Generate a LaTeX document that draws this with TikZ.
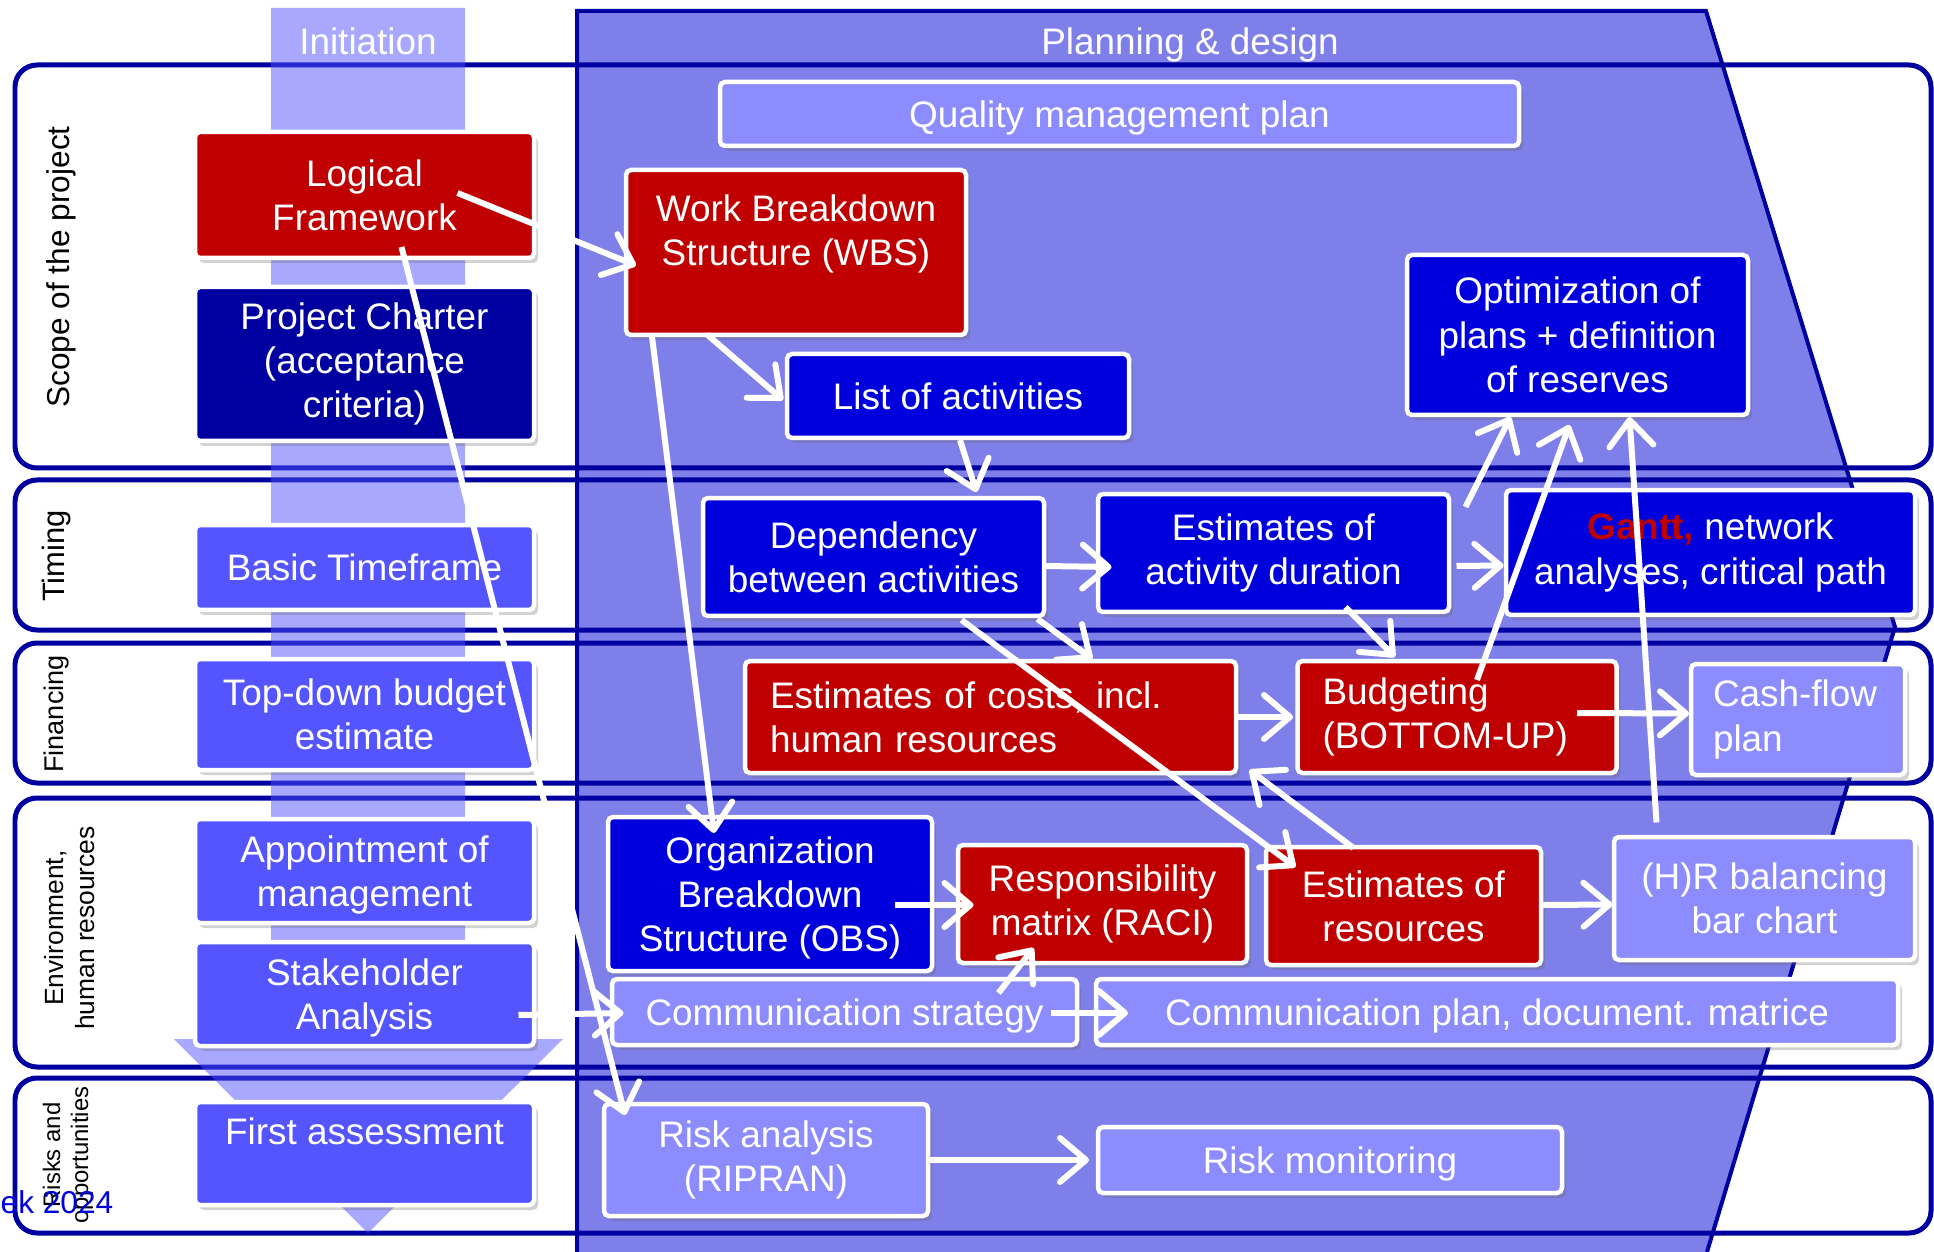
\documentclass[tikz,border=0pt]{standalone}
\usepackage{fontspec}
\setmainfont{Liberation Sans}
\usetikzlibrary{calc,arrows.meta,shadows}

\definecolor{cplan}{RGB}{127,127,234}
\definecolor{cline}{RGB}{0,0,160}
\definecolor{cband}{RGB}{81,81,255}
\definecolor{cred}{RGB}{192,0,0}
\definecolor{cnavy}{RGB}{0,0,160}
\definecolor{cblue}{RGB}{0,0,220}
\definecolor{cmid}{RGB}{85,85,255}
\definecolor{clight}{RGB}{140,140,255}

\newcommand{\boxfont}{\fontsize{10.5}{12.6}\selectfont}

\begin{document}
\begin{tikzpicture}[x=0.1mm,y=-0.1mm,
  box/.style={draw=white, line width=0.45mm, rounded corners=0.5mm, text=white,
    align=center, font=\boxfont, inner sep=0.5mm,
    drop shadow={shadow xshift=0.4mm, shadow yshift=-0.5mm, opacity=0.3, fill=black!60}},
  redbox/.style={box, fill=cred},
  navybox/.style={box, fill=cnavy},
  bluebox/.style={box, fill=cblue},
  midbox/.style={box, fill=cmid},
  lightbox/.style={box, fill=clight},
  low/.style={text depth=-0.4mm},
  row/.style={draw=cline, line width=0.5mm, rounded corners=2.2mm},
  rowlabel/.style={rotate=90, align=center, inner sep=0pt},
  arr/.style={draw=white, line width=0.6mm, -{Straight Barb[length=2.6mm,width=4.4mm,round]}},
]
\useasboundingbox (0,0) rectangle (1934,1252);

% planning & design phase
\fill[cplan] (577,11) -- (1706,11) -- (1895,627) -- (1707,1252) -- (577,1252) -- cycle;
\draw[cline, line width=0.4mm] (577,1252) -- (577,11) -- (1706,11) -- (1895,627) -- (1707,1252);

% rows
\draw[row] (15,65) rectangle (1931,468);
\draw[row] (15,480) rectangle (1931,630);
\draw[row] (15,643) rectangle (1931,783);
\draw[row] (15,798) rectangle (1931,1067);
\draw[row] (15,1078) rectangle (1931,1233);

% initiation phase
\fill[cband, opacity=0.5] (271,8) -- (465,8) -- (465,1039) -- (563,1039) -- (368,1233)
  -- (174,1039) -- (271,1039) -- cycle;
\node[text=white, font=\boxfont] (init) at (368,41) {Initiation};
\node[text=white, font=\boxfont] (plan) at (1190,45) {Planning \& design};

\node[rowlabel, font=\fontsize{9}{10.8}\selectfont] (lscope) at (61,267) {Scope of the project};
\node[rowlabel, font=\fontsize{8.8}{10.5}\selectfont] (ltime) at (57,556) {Timing};
\node[rowlabel, font=\fontsize{7.7}{9}\selectfont] (lfin) at (57,714) {Financing};
\node[rowlabel, font=\fontsize{7.5}{8.8}\selectfont] (lenv) at (70,928) {Environment,\\human resources};
\node[rowlabel, font=\fontsize{6.8}{8}\selectfont] (lrisk) at (68,1155) {Risks and\\opportunities};
\node[anchor=west, text=cblue, font=\fontsize{9}{10}\selectfont, inner sep=0pt] (year) at (0,1202) {ek 2024};

% initiation boxes
\node[redbox, minimum width=33.9mm, minimum height=12.6mm] (lf) at (364.5,195) {Logical\\Framework};
\node[navybox, minimum width=33.9mm, minimum height=15.4mm] (pc) at (364.5,364) {Project Charter\\(acceptance\\criteria)};
\node[midbox, minimum width=33.9mm, minimum height=8.5mm] (btf) at (364.5,567.5) {Basic Timeframe};
\node[midbox, minimum width=33.9mm, minimum height=11.1mm] (tdb) at (364.5,714.5) {Top-down budget\\estimate};
\node[midbox, low, minimum width=33.9mm, minimum height=10.4mm] (app) at (364.5,871) {Appointment of\\management};
\node[midbox, low, minimum width=33.9mm, minimum height=10.4mm] (stk) at (364.5,994) {Stakeholder\\Analysis};
\node[midbox, minimum width=33.9mm, minimum height=10.3mm] (fas) at (364.5,1153.5) {First assessment\\\mbox{}};

% planning boxes
\node[lightbox, low, minimum width=79.9mm, minimum height=6.4mm] (qmp) at (1119.5,114) {Quality management plan};
\node[redbox, minimum width=34mm, minimum height=16.5mm] (wbs) at (796,252.5) {Work Breakdown\\Structure (WBS)\\\mbox{}};
\node[bluebox, minimum width=34.2mm, minimum height=8.4mm] (loa) at (958,396) {List of activities};
\node[bluebox, minimum width=34.1mm, minimum height=16mm] (opt) at (1577.5,335) {Optimization of\\plans + definition\\of reserves};
\node[bluebox, minimum width=34.1mm, minimum height=11.8mm] (dep) at (873.5,557) {Dependency\\between activities};
\node[bluebox, minimum width=35.1mm, minimum height=11.8mm] (ead) at (1273.5,553) {Estimates of\\activity duration};
\node[bluebox, minimum width=40.9mm, minimum height=12.5mm] (gantt) at (1710.5,552.5) {\textbf{\color{cred}Gantt,} network\\analyses, critical path};
\node[redbox, align=left, text width=44.1mm, inner xsep=2.5mm, minimum height=11.2mm] (eco) at (990.5,717) {Estimates of costs, incl.\\human resources};
\node[redbox, align=left, text width=26.9mm, inner xsep=2.5mm, minimum height=11.2mm] (bud) at (1457,717) {Budgeting\\(BOTTOM-UP)};
\node[lightbox, align=left, text width=17mm, inner xsep=2.2mm, minimum height=11.1mm] (cfp) at (1798,719.5) {\mbox{Cash-flow}\\plan};
\node[bluebox, low, minimum width=32.4mm, minimum height=15.4mm] (obs) at (770,894) {Organization\\Breakdown\\Structure (OBS)};
\node[redbox, minimum width=28.9mm, minimum height=11.8mm] (raci) at (1102.5,904) {Responsibility\\matrix (RACI)};
\node[redbox, minimum width=27.5mm, minimum height=11.8mm] (eor) at (1403.5,906) {Estimates of\\resources};
\node[lightbox, minimum width=30.1mm, minimum height=12.3mm] (hrb) at (1764.5,898.5) {(H)R balancing\\bar chart};
\node[lightbox, low, minimum width=46.5mm, minimum height=6.6mm] (cst) at (844.5,1012) {Communication strategy};
\node[lightbox, low, minimum width=80.2mm, minimum height=6.6mm] (cpl) at (1497,1012) {Communication plan, document. matrice};
\node[lightbox, minimum width=32.4mm, minimum height=11.2mm] (ria) at (766,1160) {Risk analysis\\(RIPRAN)};
\node[lightbox, low, minimum width=46.4mm, minimum height=6.6mm] (rmo) at (1330,1160) {Risk monitoring};

% connectors
\draw[arr] ($(lf.center)+(93,-2)$) -- ($(wbs.center)+(-160,13)$);
\draw[arr] ($(lf.center)+(37,52)$) -- ($(ria.center)+(-141,-45)$);
\draw[arr] ($(wbs.center)+(-144,84)$) -- ($(obs.center)+(-56,-61)$);
\draw[arr] ($(wbs.center)+(-89,82)$) -- ($(loa.center)+(-175,4)$);
\draw[arr] ($(loa.center)+(2,44)$) -- ($(dep.center)+(103,-65)$);
\draw[arr] ($(dep.center)+(172,9)$) -- ($(ead.center)+(-162,14)$);
\draw[arr] ($(dep.center)+(164,62)$) -- ($(eco.center)+(102,-58)$);
\draw[arr] ($(dep.center)+(88,63)$) -- ($(eor.center)+(-108,-39)$);
\draw[arr] ($(eor.center)+(-50,-58)$) -- ($(eco.center)+(259,53)$);
\draw[arr] ($(eco.center)+(246,0)$) -- ($(bud.center)+(-164,0)$);
\draw[arr] ($(ead.center)+(72,54)$) -- ($(bud.center)+(-62,-60)$);
\draw[arr] ($(ead.center)+(183,13)$) -- ($(gantt.center)+(-207,13)$);
\draw[arr] ($(ead.center)+(192,-46)$) -- ($(opt.center)+(-67,82)$);
\draw[arr] ($(bud.center)+(20,-37)$) -- ($(opt.center)+(-8,90)$);
\draw[arr] ($(hrb.center)+(-108,-76)$) -- ($(opt.center)+(52,82)$);
\draw[arr] ($(bud.center)+(120,-4)$) -- ($(cfp.center)+(-109,-6)$);
\draw[arr] ($(eor.center)+(139,-1)$) -- ($(hrb.center)+(-152,6)$);
\draw[arr] ($(obs.center)+(125,11)$) -- ($(raci.center)+(-129,1)$);
\draw[arr] ($(cst.center)+(154,-19)$) -- ($(raci.center)+(-69,44)$);
\draw[arr] ($(stk.center)+(154,21)$) -- ($(cst.center)+(-221,1)$);
\draw[arr] ($(cst.center)+(206,1)$) -- ($(cpl.center)+(-369,1)$);
\draw[arr] ($(ria.center)+(164,0)$) -- ($(rmo.center)+(-241,0)$);
\end{tikzpicture}
\end{document}
